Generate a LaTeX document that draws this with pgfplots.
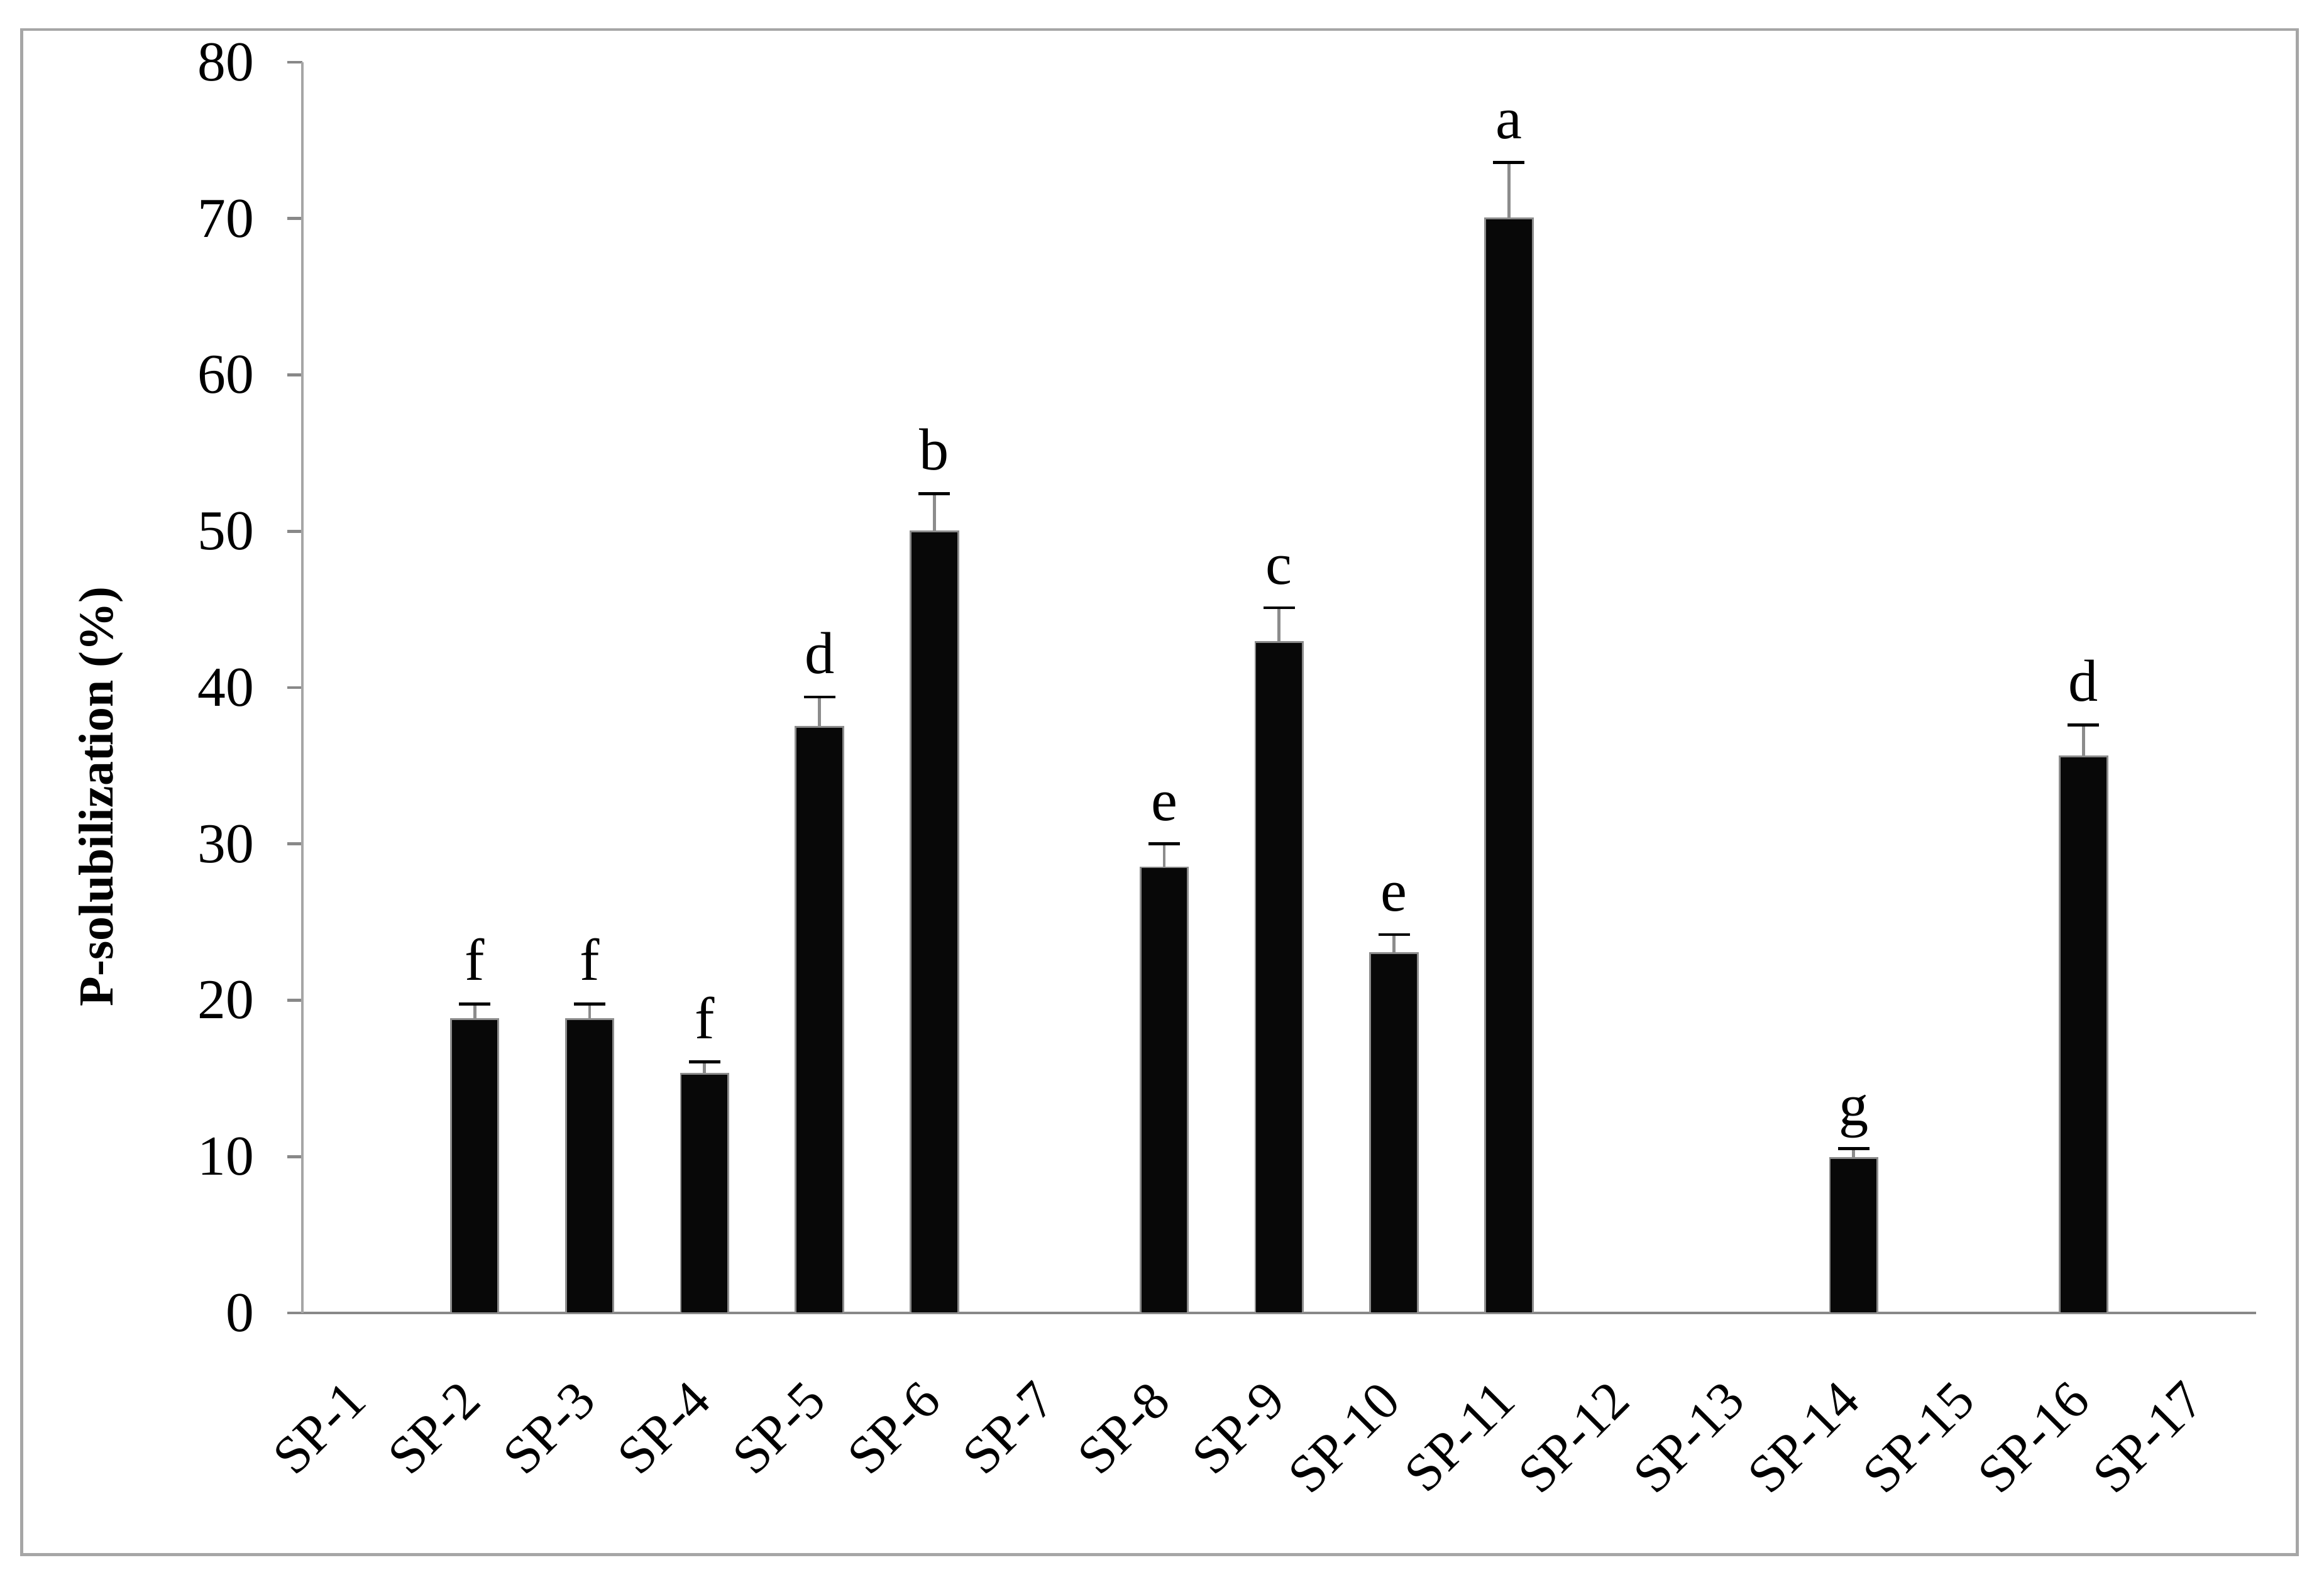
\documentclass[border=0pt]{standalone}
\usepackage{fontspec}
\setmainfont{Liberation Serif}
\usepackage{pgfplots}
\usepackage{pgfplotstable}
\pgfplotsset{compat=1.18}
\definecolor{axisgray}{HTML}{888888}
\definecolor{framegray}{HTML}{A6A6A6}
\definecolor{barfill}{HTML}{080808}
\definecolor{baredge}{HTML}{8C8C8C}

\pgfplotstableread{
x  y     err   lbl
2  18.8  0.95  f
3  18.8  0.95  f
4  15.3  0.75  f
5  37.5  1.9   d
6  50.0  2.4   b
8  28.5  1.5   e
9  42.9  2.2   c
10 23.0  1.2   e
11 70.0  3.6   a
14 9.9   0.6   g
16 35.6  2.0   d
}\psdata

\begin{document}
\begin{tikzpicture}
\useasboundingbox (-102pt,-94pt) rectangle (682pt,443pt);
\draw[framegray, line width=1pt] (-94.7pt,-81.5pt) rectangle (673pt,433pt);
\begin{axis}[
    at={(0,0)}, anchor=south west,
    scale only axis,
    width=659pt, height=422pt,
    xmin=0.5, xmax=17.5,
    ymin=0, ymax=80,
    axis lines*=left,
    x axis line style={axisgray, line width=1pt},
    y axis line style={framegray, line width=1pt},
    tick align=outside,
    major tick length=5pt,
    xtick={1,...,17},
    xticklabels={SP-1,SP-2,SP-3,SP-4,SP-5,SP-6,SP-7,SP-8,SP-9,SP-10,SP-11,SP-12,SP-13,SP-14,SP-15,SP-16,SP-17},
    xtick style={draw=none},
    xticklabel style={font=\fontsize{18}{20}\selectfont, inner sep=0pt,
        xshift=-5.5pt, yshift=-17pt, rotate=45, anchor=north east},
    ytick={0,10,...,80},
    ytick style={draw=axisgray, line width=1pt},
    yticklabel style={font=\fontsize{19}{22}\selectfont, inner sep=0pt, xshift=-11pt},
    /pgf/number format/assume math mode=true,
    ylabel={\bfseries P-solubilization (\%)},
    ylabel style={font=\fontsize{16.5}{19}\selectfont, at={(axis description cs:-0.103,0.413)}, anchor=center},
    clip=false,
]
\addplot[ybar, bar width=16pt, fill=barfill, draw=baredge, line width=0.6pt,
    error bars/.cd, y dir=plus, y explicit,
    error bar style={baredge, line width=1pt},
    error mark options={black, line width=1pt, rotate=90, mark size=5.3pt}]
    table[x=x, y=y, y error=err] {\psdata};
\addplot[only marks, mark=none, nodes near coords, point meta=explicit symbolic,
    nodes near coords style={anchor=base, yshift=8pt, font=\fontsize{20}{22}\selectfont, text=black}]
    table[x=x, y expr=\thisrow{y}+\thisrow{err}, meta=lbl] {\psdata};
\end{axis}
\end{tikzpicture}
\end{document}
